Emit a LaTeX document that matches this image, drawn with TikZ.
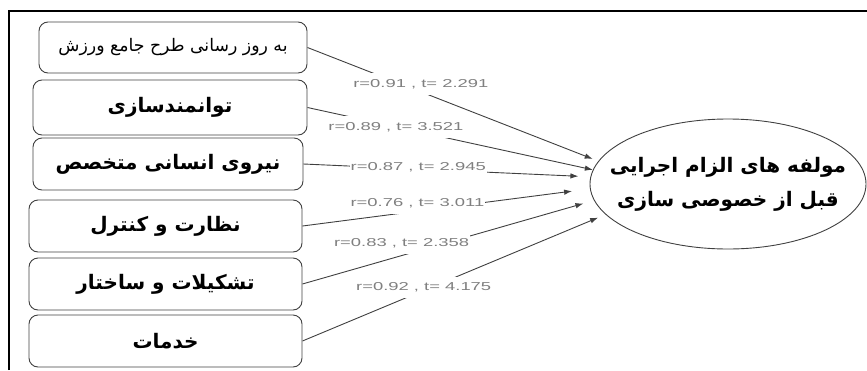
\documentclass[tikz,border=0pt]{standalone}
\usepackage{fontspec}
\setmainfont{DejaVu Sans}
\newfontfamily\farsi[Script=Arabic]{DejaVu Sans}
\newfontfamily\coeffont[FakeStretch=1.6]{Liberation Sans}
\TeXXeTstate=1
\usetikzlibrary{arrows.meta}
\usetikzlibrary{shapes.geometric}
\usetikzlibrary{positioning}

\begin{document}
\begin{tikzpicture}[x=1pt,y=-1pt]
  \tikzset{factorbox/.style={draw=black!75,line width=0.9pt,rounded corners=9pt,minimum width=#1,minimum height=52pt,inner sep=0pt,font=\farsi\bfseries\fontsize{20}{24}\selectfont},
           latentbox/.style={ellipse,draw=black!75,line width=0.9pt,minimum width=276pt,minimum height=130pt,inner xsep=-25pt,inner ysep=0pt,align=center,font=\farsi\bfseries\fontsize{20}{34}\selectfont},
           coef/.style={fill=white,inner xsep=1pt,inner ysep=6pt,text=black!50,font=\coeffont\fontsize{11.5}{13}\selectfont},
           loading/.style={-{Latex[length=8pt,width=5.5pt]},line width=0.9pt,black!75}}
  \useasboundingbox (0,0) rectangle (867,370);
  \draw[line width=2pt] (9,370) -- (9,11) -- (867,11);

  \node[factorbox=268pt,minimum height=51pt,font=\farsi\fontsize{17.3}{18}\selectfont] (update) at (173,47.5) {\beginR به روز رسانی طرح جامع ورزش\endR};
  \node[factorbox=274pt,minimum height=55pt] (empower) at (170,107.5) {\beginR توانمندسازی\endR};
  \node[factorbox=270pt] (staff) at (168,164) {\beginR نیروی انسانی متخصص\endR};
  \node[factorbox=273pt] (control) at (165.5,226) {\beginR نظارت و کنترل\endR};
  \node[factorbox=273pt] (struct) at (165.5,284) {\beginR تشکیلات و ساختار\endR};
  \node[factorbox=273pt] (service) at (165.5,341) {\beginR خدمات\endR};

  \node[latentbox] (latent) at (728,184) {\beginR مولفه های الزام اجرایی\endR\\\beginR قبل از خصوصی سازی\endR};

  \draw[loading,shorten >=6pt] (update.east) -- node[coef,pos=0.39,yshift=8pt] {r=0.91 , t= 2.291} (latent.170);
  \draw[loading] (empower.east) -- node[coef,pos=0.31] {r=0.89 , t= 3.521} (latent.174);
  \draw[loading,shorten >=12pt] (staff.east) -- node[coef,pos=0.40,yshift=2pt] {r=0.87 , t= 2.945} (latent.177);
  \draw[loading,shorten >=18pt] (control.east) -- node[coef,pos=0.40,yshift=8pt] {r=0.76 , t= 3.011} (latent.182);
  \draw[loading,shorten >=11pt] (struct.east) -- node[coef,pos=0.34,yshift=12pt] {r=0.83 , t= 2.358} (latent.187);
  \draw[loading,shorten >=8pt] (service.east) -- node[coef,pos=0.40,yshift=3pt] {r=0.92 , t= 4.175} (latent.194);
\end{tikzpicture}
\end{document}
